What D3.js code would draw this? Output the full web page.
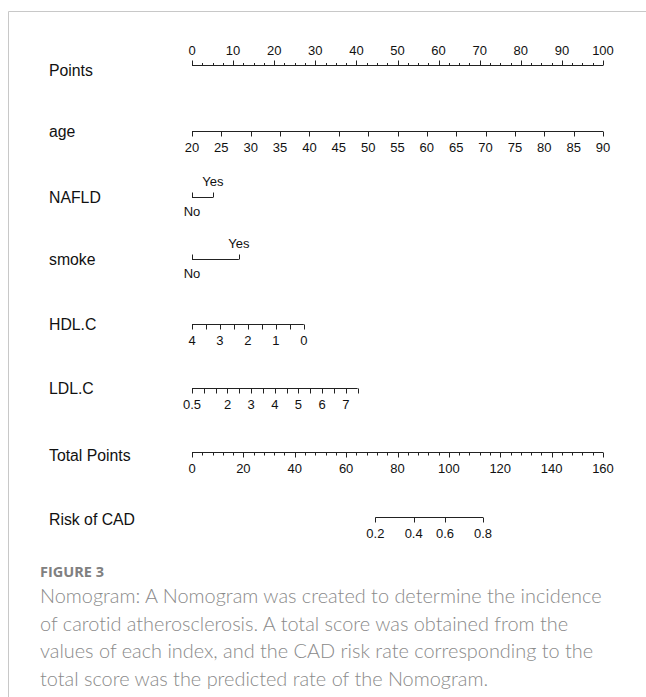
<!DOCTYPE html>
<html>
<head>
<meta charset="utf-8">
<script src="https://cdn.jsdelivr.net/npm/d3@7/dist/d3.min.js"></script>
<style>
  html, body { margin: 0; padding: 0; background: #fff; }
  svg { display: block; }
  .caption text { font-variant-ligatures: none; }
</style>
</head>
<body>
<svg id="chart" width="646" height="697"></svg>
<script>
// ---- Nomogram data ----
const rowNames = ["Points", "age", "NAFLD", "smoke", "HDL.C", "LDL.C", "Total Points", "Risk of CAD"];

// Points scale
const pointsDomain = [0, 100];
const pointsMajor = [0, 10, 20, 30, 40, 50, 60, 70, 80, 90, 100];
const pointsMinorStep = 2.5;

// age: value range and the points it spans
const ageDomain = [20, 90];
const agePoints = [0, 100];
const ageTicks = [20, 25, 30, 35, 40, 45, 50, 55, 60, 65, 70, 75, 80, 85, 90];

// NAFLD (categorical)
const nafldLevels = ["No", "Yes"];
const nafldPoints = [0, 5.1];

// smoke (categorical)
const smokeLevels = ["No", "Yes"];
const smokePoints = [0, 11.4];

// HDL.C: 4 -> 0 points, 0 -> 27.2 points
const hdlDomain = [4, 0];
const hdlPoints = [0, 27.2];
const hdlTicks = [4, 3.5, 3, 2.5, 2, 1.5, 1, 0.5, 0];
const hdlLabels = [4, 3, 2, 1, 0];

// LDL.C: 0.5 -> 0 points, 7.5 -> 40.3 points
const ldlDomain = [0.5, 7.5];
const ldlPoints = [0, 40.3];
const ldlTicks = [0.5, 1, 1.5, 2, 2.5, 3, 3.5, 4, 4.5, 5, 5.5, 6, 6.5, 7, 7.5];
const ldlLabels = [0.5, 2, 3, 4, 5, 6, 7];

// Total points scale
const totalDomain = [0, 160];
const totalMajor = [0, 20, 40, 60, 80, 100, 120, 140, 160];
const totalMinorStep = 4;

// Risk of CAD and the total points where each risk is reached
const riskTicks = [0.2, 0.4, 0.6, 0.8];
const riskTotalPoints = [71.4, 86.3, 98.5, 113.3];

// Caption
const figureLabel = "FIGURE 3";
const captionLines = [
  "Nomogram: A Nomogram was created to determine the incidence",
  "of carotid atherosclerosis. A total score was obtained from the",
  "values of each index, and the CAD risk rate corresponding to the",
  "total score was the predicted rate of the Nomogram."
];

// ---- Drawing ----
const svg = d3.select("#chart");
const ink = "#222";
const chartFont = "'Liberation Sans', Arial, sans-serif";
const x0 = 192, x1 = 603;

// frame
svg.append("path")
  .attr("d", "M8.5,697 V11.5 H646")
  .attr("fill", "none").attr("stroke", "#c8c8c8").attr("stroke-width", 1);

const xPts = d3.scaleLinear().domain(pointsDomain).range([x0, x1]);
const xTot = d3.scaleLinear().domain(totalDomain).range([x0, x1]);

const rowY = {
  "Points": 65.5, "age": 131.5, "NAFLD": 197.5, "smoke": 259.5,
  "HDL.C": 324.5, "LDL.C": 388.5, "Total Points": 452.5, "Risk of CAD": 517.5
};
const nameDy = { "Points": 5, "Total Points": 3, "Risk of CAD": 2 };

const g = svg.append("g").attr("font-family", chartFont);

// row names
g.selectAll("text.rowname").data(rowNames).join("text")
  .attr("class", "rowname")
  .attr("x", 49)
  .attr("y", d => rowY[d] + (nameDy[d] || 0))
  .attr("dy", "0.35em")
  .attr("font-size", 15.8)
  .attr("fill", "#111")
  .text(d => d);

// generic axis: line, ticks (majors with labels, minors without)
function drawAxis(y, scale, tickVals, labelVals, labelFmt, up, majorLen, minorLen, majorVals) {
  const a = g.append("g");
  const r = d3.extent(tickVals.map(scale));
  a.append("line").attr("x1", r[0]).attr("x2", r[1]).attr("y1", y).attr("y2", y)
    .attr("stroke", ink).attr("stroke-width", 1);
  const sign = up ? -1 : 1;
  a.selectAll("line.tick").data(tickVals).join("line")
    .attr("class", "tick")
    .attr("x1", d => Math.round(scale(d)) + 0.5).attr("x2", d => Math.round(scale(d)) + 0.5)
    .attr("y1", y)
    .attr("y2", d => y + sign * ((majorVals ? majorVals.includes(d) : true) ? majorLen : minorLen))
    .attr("stroke", ink).attr("stroke-width", 1);
  a.selectAll("text").data(labelVals).join("text")
    .attr("x", d => scale(d))
    .attr("y", up ? y - 15 : y + 16)
    .attr("dy", "0.35em")
    .attr("text-anchor", "middle")
    .attr("font-size", 13)
    .attr("fill", "#111")
    .text(labelFmt);
  return a;
}

// Points
const ptsAll = d3.range(pointsDomain[0], pointsDomain[1] + 1e-9, pointsMinorStep);
drawAxis(rowY["Points"], xPts, ptsAll, pointsMajor, d => d, true, 5, 2.5, pointsMajor);

// age
const ageScale = d3.scaleLinear().domain(ageDomain).range(agePoints.map(xPts));
drawAxis(rowY["age"], ageScale, ageTicks, ageTicks, d => d, false, 5, 5);

// categorical rows: levels alternate below / above the line
function drawBinary(y, levels, pts) {
  const a = g.append("g");
  const xs = pts.map(xPts);
  a.append("line").attr("x1", xs[0]).attr("x2", xs[1]).attr("y1", y).attr("y2", y)
    .attr("stroke", ink);
  a.selectAll("line.tick").data(xs).join("line")
    .attr("class", "tick")
    .attr("x1", d => Math.round(d) + 0.5).attr("x2", d => Math.round(d) + 0.5)
    .attr("y1", y).attr("y2", y - 5).attr("stroke", ink);
  a.selectAll("text").data(levels).join("text")
    .attr("x", (d, i) => xs[i])
    .attr("y", (d, i) => i === 0 ? y + 14 : y - 16)
    .attr("dy", "0.35em")
    .attr("text-anchor", "middle")
    .attr("font-size", 13)
    .attr("fill", "#111")
    .text(d => d);
}
drawBinary(rowY["NAFLD"], nafldLevels, nafldPoints);
drawBinary(rowY["smoke"], smokeLevels, smokePoints);

// HDL.C
const hdlScale = d3.scaleLinear().domain(hdlDomain).range(hdlPoints.map(xPts));
drawAxis(rowY["HDL.C"], hdlScale, hdlTicks, hdlLabels, d => d, false, 5, 5);

// LDL.C
const ldlScale = d3.scaleLinear().domain(ldlDomain).range(ldlPoints.map(xPts));
drawAxis(rowY["LDL.C"], ldlScale, ldlTicks, ldlLabels, d => d, false, 5, 5);

// Total Points
const totAll = d3.range(totalDomain[0], totalDomain[1] + 1e-9, totalMinorStep);
drawAxis(rowY["Total Points"], xTot, totAll, totalMajor, d => d, false, 5, 3, totalMajor);

// Risk of CAD: risk -> total points -> x
const riskScale = d3.scaleOrdinal().domain(riskTicks).range(riskTotalPoints.map(xTot));
drawAxis(rowY["Risk of CAD"], v => riskScale(v), riskTicks, riskTicks, d => d, false, 5, 5);

// caption
svg.append("text")
  .attr("x", 40).attr("y", 577)
  .attr("font-family", "'Open Sans', 'Noto Sans', sans-serif")
  .attr("font-weight", 700)
  .attr("font-size", 14.5)
  .attr("fill", "#808080")
  .text(figureLabel);

svg.append("g")
  .attr("class", "caption")
  .attr("font-family", "Lato, 'Open Sans', sans-serif")
  .attr("font-weight", 300)
  .attr("font-size", 19.9)
  .attr("fill", "#8a8a8a")
  .selectAll("text").data(captionLines).join("text")
  .attr("x", 40)
  .attr("y", (d, i) => 603 + i * 27.6)
  .text(d => d);
</script>
</body>
</html>
